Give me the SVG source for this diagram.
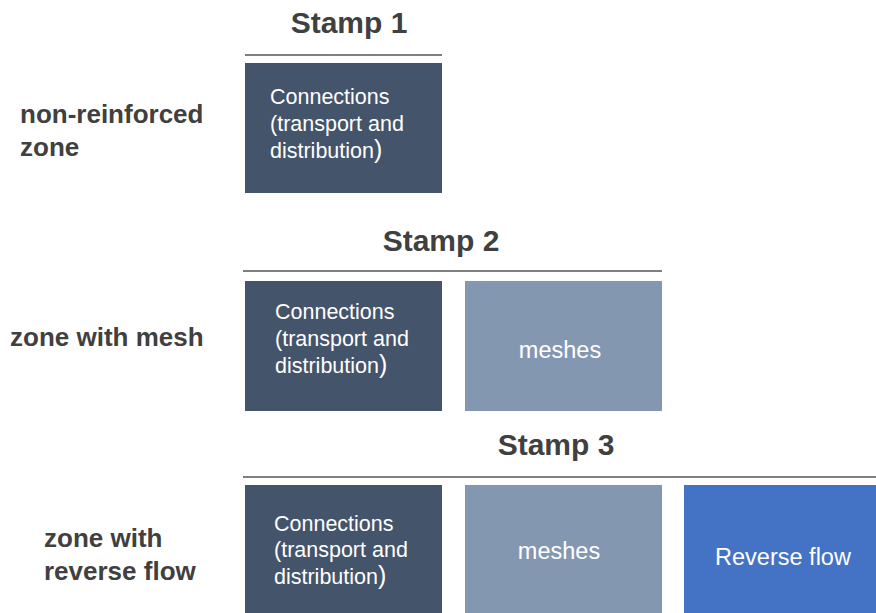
<svg xmlns="http://www.w3.org/2000/svg" width="876" height="613" viewBox="0 0 876 613">
<style>
.title{font-family:"Liberation Sans",Arial,sans-serif;font-weight:bold;font-size:30px;fill:#404040;text-anchor:middle}
.label{font-family:"Liberation Sans",Arial,sans-serif;font-weight:bold;font-size:26px;fill:#404040}
.bt{font-family:"Liberation Sans",Arial,sans-serif;font-size:21.5px;fill:#ffffff}
.bc{font-family:"Liberation Sans",Arial,sans-serif;font-size:23.5px;fill:#ffffff;text-anchor:middle}
.rule{stroke:#7f7f7f;stroke-width:2;fill:none}
.dark{fill:#44546A}
.mid{fill:#8497B0}
.blue{fill:#4472C4}
.par{font-size:25px}
</style>
<rect width="876" height="613" fill="#ffffff"/>
<g id="headers">
<text class="title" x="349" y="33">Stamp 1</text>
<text class="title" x="441" y="251">Stamp 2</text>
<text class="title" x="556" y="455">Stamp 3</text>
<line class="rule" x1="245" y1="55" x2="442" y2="55"/>
<line class="rule" x1="243" y1="271" x2="662" y2="271"/>
<line class="rule" x1="243" y1="477" x2="876" y2="477"/>
</g>
<g id="labels">
<text class="label" x="20" y="123">non-reinforced</text>
<text class="label" x="20" y="156">zone</text>
<text class="label" x="10" y="346">zone with mesh</text>
<text class="label" x="44" y="547">zone with</text>
<text class="label" x="44" y="580">reverse flow</text>
</g>
<g id="s1-connections">
<rect class="dark" x="245" y="63" width="197" height="130"/>
<text class="bt" x="270" y="104">Connections</text>
<text class="bt" x="270" y="131">(transport and</text>
<text class="bt" x="270" y="158">distribution<tspan class="par">)</tspan></text>
</g>
<g id="s2-connections">
<rect class="dark" x="245" y="281" width="197" height="130"/>
<text class="bt" x="275" y="319">Connections</text>
<text class="bt" x="275" y="346">(transport and</text>
<text class="bt" x="275" y="373">distribution<tspan class="par">)</tspan></text>
</g>
<g id="s2-meshes">
<rect class="mid" x="465" y="281" width="197" height="130"/>
<text class="bc" x="560" y="358">meshes</text>
</g>
<g id="s3-connections">
<rect class="dark" x="245" y="485" width="197" height="128"/>
<text class="bt" x="274" y="531">Connections</text>
<text class="bt" x="274" y="557">(transport and</text>
<text class="bt" x="274" y="584">distribution<tspan class="par">)</tspan></text>
</g>
<g id="s3-meshes">
<rect class="mid" x="465" y="485" width="197" height="128"/>
<text class="bc" x="559" y="559">meshes</text>
</g>
<g id="s3-reverse">
<rect class="blue" x="684" y="485" width="192" height="128"/>
<text class="bc" x="783" y="565">Reverse flow</text>
</g>
<g id="connectors"/>
</svg>
